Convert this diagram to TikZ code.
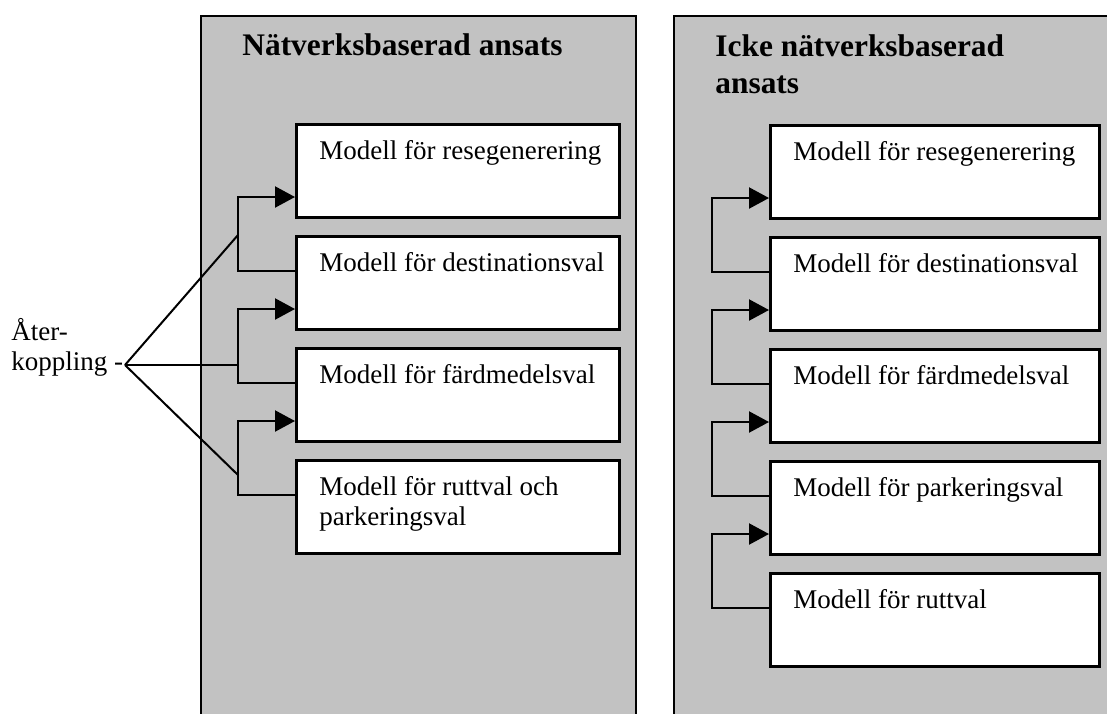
\documentclass[tikz,border=0pt]{standalone}
\usepackage{fontspec}
\setmainfont{Liberation Serif}
\usepackage{tkz-euclide}
\usetikzlibrary{calc,arrows.meta}
\tikzset{
  panel/.style={draw=black,line width=1.2pt,fill=black!24},
  modell/.style={draw=black,line width=1.4pt,fill=white,anchor=north west,
    inner xsep=11.5pt,inner ysep=7.8pt,font=\fontsize{13.5}{15}\selectfont},
  rubrik/.style={anchor=base west,inner sep=0pt,align=left,
    font=\fontsize{15.7}{18.5}\selectfont\bfseries},
  back/.style={line width=1.1pt,-{Triangle[length=10pt,width=10.5pt]}},
  pek/.style={line width=1pt}
}
\newcommand{\rad}[1]{\hbox to\hsize{#1\hss}}
\newcommand{\modellv}[1]{\parbox[c][30.9pt][t]{138.5pt}{#1}}
\newcommand{\modellh}[1]{\parbox[c][30.9pt][t]{141.5pt}{#1}}

\begin{document}
\begin{tikzpicture}[x=0.5pt,y=-0.5pt]
\useasboundingbox (0,0) rectangle (1107,713);

\draw[panel] (201,730) |- (636,16) -- (636,730);
\draw[panel] (674,730) |- (1108,16) -- (1108,730);
\node[rubrik] (natverk) at (242,55) {Nätverksbaserad ansats};
\node[rubrik] (icke) at (715,93) {Icke nätverksbaserad\\ansats};

\node[modell] (v1) at (295,123) {\modellv{\rad{Modell för resegenerering}}};
\node[modell] (v2) at (295,235) {\modellv{\rad{Modell för destinationsval}}};
\node[modell] (v3) at (295,347) {\modellv{\rad{Modell för färdmedelsval}}};
\node[modell] (v4) at (295,459) {\modellv{\rad{Modell för ruttval och}\rad{parkeringsval}}};

\node[modell] (h1) at (769,124) {\modellh{\rad{Modell för resegenerering}}};
\node[modell] (h2) at (769,236) {\modellh{\rad{Modell för destinationsval}}};
\node[modell] (h3) at (769,348) {\modellh{\rad{Modell för färdmedelsval}}};
\node[modell] (h4) at (769,460) {\modellh{\rad{Modell för parkeringsval}}};
\node[modell] (h5) at (769,572) {\modellh{\rad{Modell för ruttval}}};

\draw[back] ($(v2.north west)+(0,36)$) -| ($(v1.north west)+(-57,74)$) -- ($(v1.north west)+(0,74)$);
\draw[back] ($(v3.north west)+(0,36)$) -| ($(v2.north west)+(-57,74)$) -- ($(v2.north west)+(0,74)$);
\draw[back] ($(v4.north west)+(0,36)$) -| ($(v3.north west)+(-57,74)$) -- ($(v3.north west)+(0,74)$);

\draw[back] ($(h2.north west)+(0,36)$) -| ($(h1.north west)+(-57,74)$) -- ($(h1.north west)+(0,74)$);
\draw[back] ($(h3.north west)+(0,36)$) -| ($(h2.north west)+(-57,74)$) -- ($(h2.north west)+(0,74)$);
\draw[back] ($(h4.north west)+(0,36)$) -| ($(h3.north west)+(-57,74)$) -- ($(h3.north west)+(0,74)$);
\draw[back] ($(h5.north west)+(0,36)$) -| ($(h4.north west)+(-57,74)$) -- ($(h4.north west)+(0,74)$);

\node[anchor=base west,inner sep=0pt,align=left,font=\fontsize{13.5}{15}\selectfont]
  (aterkoppling) at (11,370) {Åter-\\koppling -};
\tkzDefPoint(125,365){F}
\tkzDefPoint(238,235){A}
\tkzDefPoint(238,365){B}
\tkzDefPoint(238,475){C}
\draw[pek] (F) -- (A);
\draw[pek] (F) -- (B);
\draw[pek] (F) -- (C);
\end{tikzpicture}
\end{document}
